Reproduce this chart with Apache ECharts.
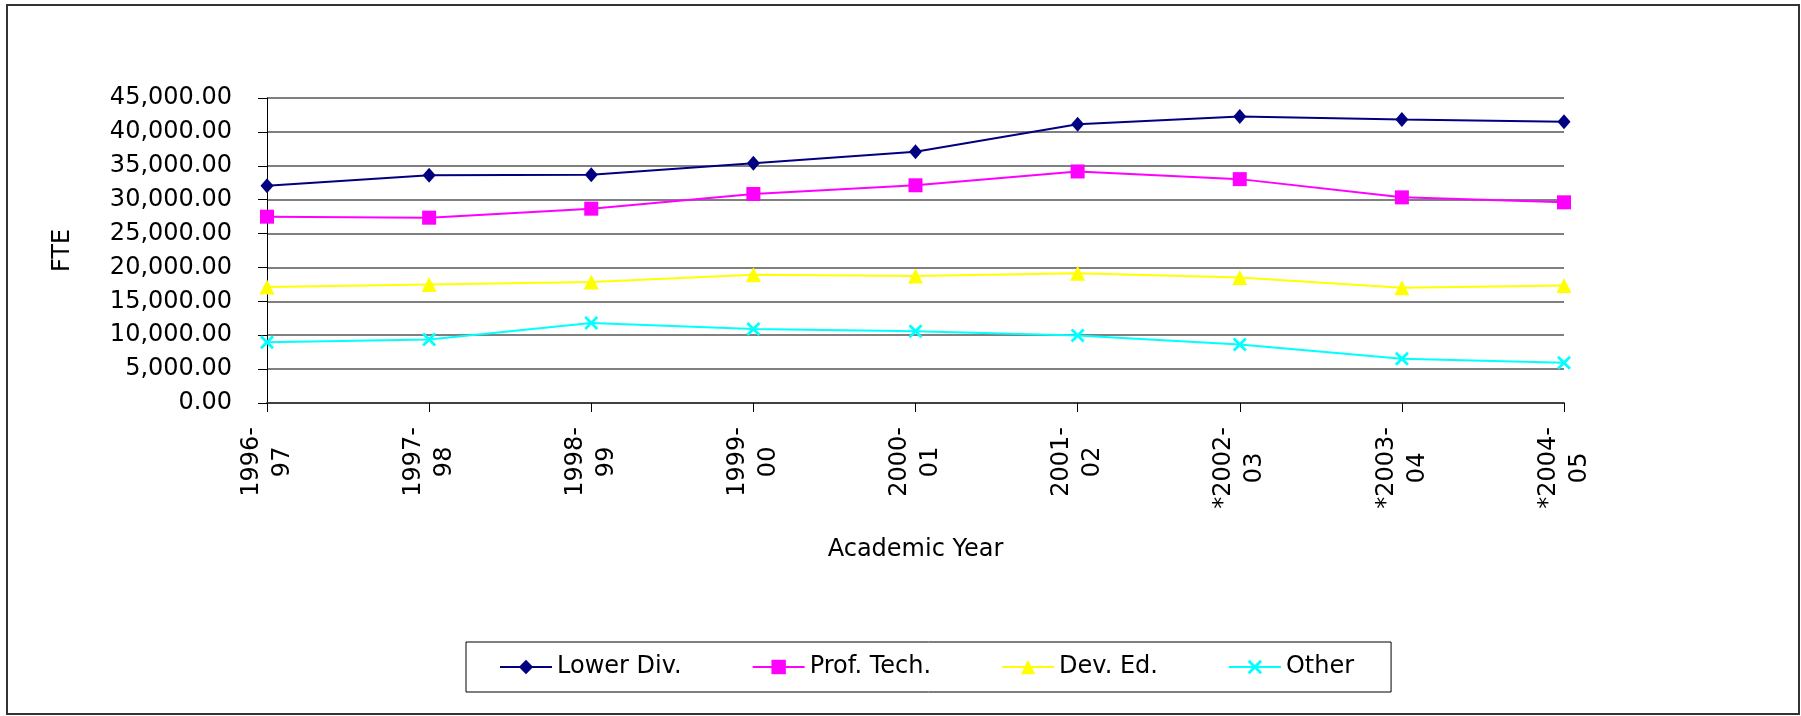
<!DOCTYPE html>
<html>
<head>
<meta charset="utf-8">
<title>FTE by Academic Year</title>
<script src="https://cdn.jsdelivr.net/npm/echarts@6/dist/echarts.min.js"></script>
<style>
    html, body { margin: 0; padding: 0; background: #fff; }
    #fteChart { width: 1801px; height: 716px; }
</style>
</head>
<body>
<div id="fteChart"></div>
<script>
    // academic years (starred ones are estimates in the source)
    const years = ['1996-97', '1997-98', '1998-99', '1999-00', '2000-01', '2001-02', '*2002-03', '*2003-04', '*2004-05'];

    const lowerDiv  = [32050, 33620, 33670, 35390, 37070, 41130, 42260, 41820, 41480];
    const profTech  = [27490, 27340, 28670, 30840, 32120, 34160, 33030, 30340, 29610];
    const devEd     = [17100, 17490, 17840, 18920, 18720, 19160, 18520, 17000, 17340];
    const other     = [8970, 9360, 11820, 10930, 10590, 9950, 8620, 6525, 5935];

    const seriesNames = ['Lower Div.', 'Prof. Tech.', 'Dev. Ed.', 'Other'];

    const font = 'DejaVu Sans';
    const fontSize = 24;
    const xMark = 'path://M0,1.4L1.4,0L5,3.6L8.6,0L10,1.4L6.4,5L10,8.6L8.6,10L5,6.4L1.4,10L0,8.6L3.6,5Z';

    function makeLine(name, data, color, symbol, size) {
        return {
            name: name,
            type: 'line',
            data: data,
            symbol: symbol,
            symbolSize: size,
            showAllSymbol: true,
            lineStyle: { color: color, width: 2 },
            itemStyle: { color: color },
            emphasis: { disabled: true }
        };
    }

    let chart = echarts.init(document.getElementById('fteChart'));
    let option = {
        animation: false,
        textStyle: { fontFamily: font, color: '#000' },
        graphic: [{
            type: 'rect',
            shape: { x: 7, y: 5, width: 1792, height: 709 },
            style: { fill: 'none', stroke: '#333', lineWidth: 2 },
            silent: true
        }],
        legend: {
            data: seriesNames,
            left: 466,
            top: 642,
            orient: 'horizontal',
            itemWidth: 52,
            itemHeight: 18,
            itemGap: 70,
            padding: [13, 37, 13, 33],
            borderColor: '#000',
            borderWidth: 1,
            textStyle: { fontFamily: font, fontSize: fontSize, lineHeight: 24, color: '#000' }
        },
        grid: {
            left: 267,
            right: 237,
            top: 98,
            bottom: 313,
            containLabel: false
        },
        xAxis: {
            type: 'category',
            data: years,
            boundaryGap: false,
            name: 'Academic Year',
            nameLocation: 'middle',
            nameGap: 135,
            nameTextStyle: { fontFamily: font, fontSize: fontSize, color: '#000' },
            axisLine: { lineStyle: { color: '#404040', width: 2 } },
            axisTick: { show: true, length: 9, alignWithLabel: true, lineStyle: { color: '#000', width: 1 } },
            axisLabel: {
                rotate: 90,
                margin: 24,
                interval: 0,
                formatter: function (v) {
                    let parts = v.split('-');
                    return '{c|' + parts[0] + '-}\n{c|' + parts[1] + '}';
                },
                rich: {
                    c: { align: 'center', fontFamily: font, fontSize: fontSize, lineHeight: 31, color: '#000' }
                }
            },
            splitLine: { show: false }
        },
        yAxis: {
            type: 'value',
            min: 0,
            max: 45000,
            interval: 5000,
            name: 'FTE',
            nameLocation: 'middle',
            nameGap: 192,
            nameTextStyle: { fontFamily: font, fontSize: fontSize, color: '#000' },
            axisLine: { show: true, lineStyle: { color: '#000', width: 1 } },
            axisTick: { show: true, length: 9, lineStyle: { color: '#000', width: 1 } },
            axisLabel: {
                margin: 35,
                fontFamily: font,
                fontSize: fontSize,
                color: '#000',
                formatter: function (v) {
                    return v.toLocaleString('en-US', { minimumFractionDigits: 2, maximumFractionDigits: 2 });
                }
            },
            splitLine: { show: true, lineStyle: { color: '#808080', width: 2 } }
        },
        series: [
            makeLine(seriesNames[0], lowerDiv, '#000080', 'diamond', [13, 15]),
            makeLine(seriesNames[1], profTech, '#FF00FF', 'rect', 14),
            makeLine(seriesNames[2], devEd, '#FFFF00', 'triangle', 15),
            makeLine(seriesNames[3], other, '#00FFFF', xMark, 14)
        ]
    };
    chart.setOption(option);
</script>
</body>
</html>
